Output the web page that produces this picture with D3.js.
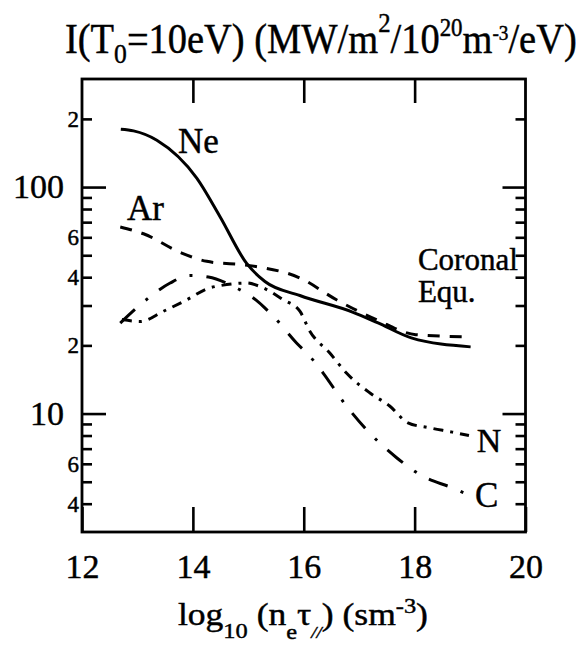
<!DOCTYPE html>
<html>
<head>
<meta charset="utf-8">
<script src="https://cdn.jsdelivr.net/npm/d3@7"></script>
<style>
  html, body { margin: 0; padding: 0; background: #fff; }
  svg { display: block; }
  svg text { font-family: "Liberation Serif", "Times New Roman", serif !important; fill: #000; stroke: #000; stroke-width: 0.45px; }
</style>
</head>
<body>
<svg id="chart" width="588" height="655" font-family="Liberation Serif"></svg>
<script>
// ---------------- data ----------------
const xTickVals = [12, 14, 16, 18, 20];
const xTickText = ["12", "14", "16", "18", "20"];
const yMajorTicks = [10, 100];
const yMinorTicks = [4, 5, 6, 7, 8, 9, 20, 30, 40, 50, 60, 70, 80, 90, 200];
const yLabelVals = [4, 6, 10, 20, 40, 60, 100, 200];
const yLabelText = ["4", "6", "10", "2", "4", "6", "100", "2"];

const neX = [12.70, 12.93, 13.35, 14.07, 14.49, 14.97, 15.30, 15.93, 16.89, 17.33, 17.94, 19.01];
const neY = [180, 177, 161, 109.5, 74, 46, 38.3, 33.2, 28.0, 25.2, 21.6, 19.7];

const arX = [12.69, 13.11, 13.80, 14.25, 15.03, 15.93, 16.59, 17.31, 18.02, 19.01];
const arY = [66.6, 62.2, 51.1, 47.0, 45.0, 39.7, 31.8, 26.0, 22.3, 21.8];

const cX = [12.69, 13.20, 13.59, 13.95, 14.28, 14.73, 15.09, 15.45, 15.87, 16.11, 16.35, 16.71, 17.13, 17.67, 18.14, 18.68, 18.95];
const cY = [25.1, 32.4, 37.7, 40.7, 40.1, 36.4, 32.4, 26.9, 20.5, 17.9, 15.1, 11.3, 8.5, 6.4, 5.3, 4.7, 4.4];

const nX = [12.72, 13.05, 13.47, 13.89, 14.25, 14.61, 14.97, 15.21, 15.63, 15.93, 16.11, 16.47, 16.77, 17.19, 17.55, 17.88, 18.27, 18.68, 18.98];
const nY = [26.0, 25.5, 28.3, 31.8, 35.5, 37.1, 37.7, 36.4, 31.8, 28.3, 23.1, 18.5, 15.1, 12.35, 10.8, 9.1, 8.65, 8.28, 8.0];

const seriesNames = ["Ne", "Ar", "C", "N"];
const seriesX = [neX, arX, cX, nX];
const seriesY = [neY, arY, cY, nY];
const seriesDash = [null, "12,10", "20,14,3,14", "10,7,3,7"];

const labelText = ["Ne", "Ar", "Coronal", "Equ.", "N", "C"];
const labelX = [13.73, 12.81, 18.06, 18.06, 19.12, 19.09];
const labelY = [141, 71.6, 43, 31.1, 6.79, 3.87];
const labelSize = [35, 35, 31, 31, 34, 35];

// ---------------- layout ----------------
const FONT = "Liberation Serif";
const svg = d3.select("#chart");
const L = 82, R = 525.5, T = 79, B = 532;

const x = d3.scaleLinear().domain([12, 20]).range([L, R]);
const y = d3.scaleLog().domain([3, 300]).range([B, T]);

// frame
svg.append("rect")
  .attr("x", L).attr("y", T).attr("width", R - L).attr("height", B - T)
  .attr("fill", "none").attr("stroke", "#000").attr("stroke-width", 2.8);

function styleAxis(g) {
  g.attr("font-family", FONT);
  g.select(".domain").remove();
  g.selectAll(".tick line").attr("stroke", "#000").attr("stroke-width", 2.6);
}

// x axes (ticks inward)
const gxb = svg.append("g").attr("transform", `translate(0,${B})`)
  .call(d3.axisBottom(x).tickValues(xTickVals).tickSizeInner(-25).tickSizeOuter(0)
        .tickFormat((d, i) => xTickText[i]));
styleAxis(gxb);
gxb.selectAll(".tick text").attr("y", 46).attr("dy", 0)
  .attr("font-size", 34).style("font-family", FONT);

const gxt = svg.append("g").attr("transform", `translate(0,${T})`)
  .call(d3.axisTop(x).tickValues(xTickVals.slice(1, -1)).tickSizeInner(-24).tickSizeOuter(0).tickFormat(""));
styleAxis(gxt);

// y axes left
const gyl1 = svg.append("g").attr("transform", `translate(${L},0)`)
  .call(d3.axisLeft(y).tickValues(yMinorTicks).tickSizeInner(-10).tickSizeOuter(0).tickFormat(""));
styleAxis(gyl1);
const gyl2 = svg.append("g").attr("transform", `translate(${L},0)`)
  .call(d3.axisLeft(y).tickValues(yMajorTicks).tickSizeInner(-24).tickSizeOuter(0).tickFormat(""));
styleAxis(gyl2);
const gyl3 = svg.append("g").attr("transform", `translate(${L},0)`)
  .call(d3.axisLeft(y).tickValues(yLabelVals).tickSize(0).tickPadding(4)
        .tickFormat((d, i) => yLabelText[i]));
gyl3.attr("font-family", FONT);
gyl3.select(".domain").remove();
gyl3.selectAll(".tick text")
  .style("font-family", FONT)
  .attr("font-size", d => (d === 10 || d === 100) ? 34 : 23)
  .attr("x", d => (d === 10 || d === 100) ? -18 : -3);

// y axes right
const gyr1 = svg.append("g").attr("transform", `translate(${R},0)`)
  .call(d3.axisRight(y).tickValues(yMinorTicks).tickSizeInner(-10).tickSizeOuter(0).tickFormat(""));
styleAxis(gyr1);
const gyr2 = svg.append("g").attr("transform", `translate(${R},0)`)
  .call(d3.axisRight(y).tickValues(yMajorTicks).tickSizeInner(-23).tickSizeOuter(0).tickFormat(""));
styleAxis(gyr2);

// lines
const line = d3.line().x(d => x(d[0])).y(d => y(d[1])).curve(d3.curveMonotoneX);
seriesNames.forEach((name, i) => {
  const pts = seriesX[i].map((v, j) => [v, seriesY[i][j]]);
  const p = svg.append("path").datum(pts)
    .attr("d", line).attr("fill", "none").attr("stroke", "#000")
    .attr("stroke-width", 3).attr("stroke-linejoin", "round");
  if (seriesDash[i]) p.attr("stroke-dasharray", seriesDash[i]);
});

// series labels
labelText.forEach((t, i) => {
  svg.append("text").attr("x", x(labelX[i])).attr("y", y(labelY[i]))
    .style("font-family", FONT)
    .attr("font-size", labelSize[i]).text(t);
});

// fitted rich text helper
function fitText(parts, left, width, baseline, size) {
  const t = svg.append("text").attr("x", 0).attr("y", baseline)
    .attr("font-size", size).style("font-family", FONT);
  parts.forEach(p => {
    const ts = t.append("tspan").text(p.t);
    ts.attr("y", baseline + (p.dy || 0));
    if (p.s) ts.attr("font-size", p.s);
    if (p.i) ts.attr("font-style", "italic");
  });
  const bb = t.node().getBBox();
  const sx = width / bb.width;
  t.attr("transform", `translate(${left - bb.x * sx},0) scale(${sx},1)`);
  return t;
}

// title
fitText([
  {t: "I(T"}, {t: "0", dy: 10, s: 28}, {t: "=10eV) (MW/m"},
  {t: "2", dy: -21, s: 27}, {t: "/10"}, {t: "20", dy: -17, s: 25},
  {t: "m"}, {t: "-3", dy: -13, s: 21}, {t: "/eV)"}
], 65, 512, 53, 42);

// x axis title
fitText([
  {t: "log"}, {t: "10", dy: 13, s: 22}, {t: " (n"}, {t: "e", dy: 14, s: 22},
  {t: "τ"}, {t: "//", dy: 13, s: 17, i: true}, {t: ") (sm"},
  {t: "-3", dy: -12, s: 22}, {t: ")"}
], 178, 250, 625, 32);
</script>
</body>
</html>
